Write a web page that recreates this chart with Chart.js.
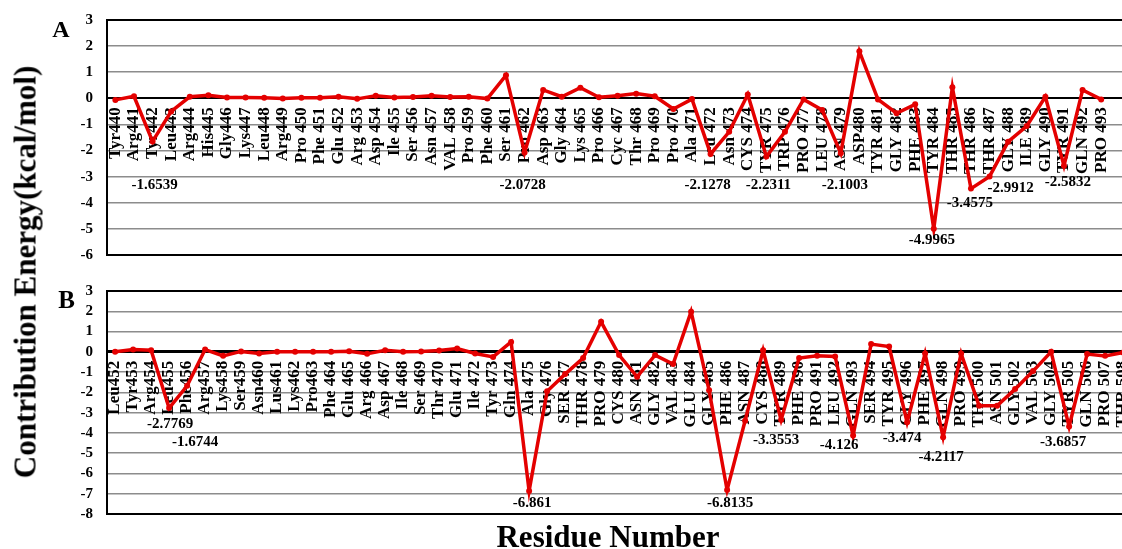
<!DOCTYPE html>
<html>
<head>
<meta charset="utf-8">
<script src="https://cdn.jsdelivr.net/npm/chart.js@4.4.1/dist/chart.umd.min.js"></script>
<style>
  html, body { margin: 0; padding: 0; background: #fff; }
  body { width: 1122px; height: 549px; overflow: hidden; position: relative;
         font-family: "Liberation Serif", "Times New Roman", serif; font-weight: bold; color: #000; }
  canvas { position: absolute; left: 0; }
  #chartA { top: 0; }
  #chartB { top: 270px; }
  .t { position: absolute; white-space: nowrap; line-height: 1; }
  #ytitle { font-size: 31px; left: 24.5px; top: 272px; transform: translate(-50%, -50%) rotate(-90deg); }
  #xtitle { font-size: 31px; left: 608px; top: 521px; transform: translateX(-50%); }
  #lblA { font-size: 24px; left: 61px; top: 17px; transform: translateX(-50%); }
  #lblB { font-size: 25px; left: 66.5px; top: 287px; transform: translateX(-50%); }
</style>
</head>
<body>
<canvas id="chartA" width="1190" height="270"></canvas>
<canvas id="chartB" width="1190" height="279"></canvas>
<div class="t" id="ytitle">Contribution Energy(kcal/mol)</div>
<div class="t" id="xtitle">Residue Number</div>
<div class="t" id="lblA">A</div>
<div class="t" id="lblB">B</div>
<script>
// Panel A residues and per-residue contribution energies (kcal/mol)
const residuesA = ['Tyr440','Arg441','Tyr442','Leu443','Arg444','His445','Gly446','Lys447','Leu448','Arg449',
  'Pro 450','Phe 451','Glu 452','Arg 453','Asp 454','Ile 455','Ser 456','Asn 457','VAL 458','Pro 459',
  'Phe 460','Ser 461','Pro 462','Asp 463','Gly 464','Lys 465','Pro 466','Cyc 467','Thr 468','Pro 469',
  'Pro 470','Ala 471','Leu 472','Asn 473','CYS 474','TYR 475','TRP 476','PRO 477','LEU 478','ASN 479',
  'ASP480','TYR 481','GLY 482','PHE 483','TYR 484','THR 485','THR 486','THR 487','GLY 488','ILE 489',
  'GLY 490','TYR 491','GLN 492','PRO 493'];
const energyA = [-0.06, 0.08, -1.6539, -0.5, 0.06, 0.12, 0.03, 0.03, 0.02, -0.01,
  0.02, 0.02, 0.06, -0.02, 0.1, 0.03, 0.05, 0.1, 0.05, 0.06,
  -0.01, 0.88, -2.0728, 0.32, 0.06, 0.41, 0.04, 0.1, 0.18, 0.08,
  -0.41, -0.03, -2.1278, -1.28, 0.15, -2.2311, -1.28, -0.04, -0.45, -2.1003,
  1.8, -0.04, -0.57, -0.23, -4.9965, 0.42, -3.4575, -2.9912, -1.66, -1.06,
  0.06, -2.5832, 0.32, -0.04];

// Panel B residues and energies
const residuesB = ['Leu452','Tyr453','Arg454','Leu455','Phe456','Arg457','Lys458','Ser459','Asn460','Lus461',
  'Lys462','Pro463','Phe 464','Glu 465','Arg 466','Asp 467','Ile 468','Ser 469','Thr 470','Glu 471',
  'Ile 472','Tyr 473','Gln 474','Ala 475','Gly 476','SER 477','THR 478','PRO 479','CYS 480','ASN 481',
  'GLY 482','VAL 483','GLU 484','GLY 485','PHE 486','ASN 487','CYS 488','TYR 489','PHE 490','PRO 491',
  'LEU 492','GLN 493','SER 494','TYR 495','GLY 496','PHE 497','GLN 498','PRO 499','THR 500','ASN 501',
  'GLY 502','VAL 503','GLY 504','TYR 505','GLN 506','PRO 507','THR 508'];
const energyB = [0, 0.11, 0.08, -2.7769, -1.6744, 0.11, -0.2, 0.02, -0.08, 0,
  0, 0, 0, 0.03, -0.1, 0.08, 0, 0.02, 0.07, 0.16,
  -0.08, -0.25, 0.49, -6.861, -1.95, -1.1, -0.31, 1.48, -0.16, -1.23,
  -0.16, -0.6, 1.98, -1.9, -6.8135, -3.4, 0.08, -3.3553, -0.31, -0.2,
  -0.23, -4.126, 0.38, 0.26, -3.474, -0.08, -4.2117, -0.08, -2.66, -2.66,
  -1.84, -0.95, 0, -3.6857, -0.11, -0.2, -0.03];

// Residues whose energy is printed
const annotatedA = [2, 22, 32, 35, 39, 44, 46, 47, 51];
const annotatedB = [3, 4, 23, 34, 37, 41, 44, 46, 53];

// Where each printed value sits: horizontal nudge (px) and row (axis units)
const spotsA = [
  { dx: 2, row: -3.32 }, { dx: -2, row: -3.32 }, { dx: -3, row: -3.32 }, { dx: 2, row: -3.32 },
  { dx: 4, row: -3.32 }, { dx: -2, row: -5.43 }, { dx: -1, row: -4.01 }, { dx: 21, row: -3.44 },
  { dx: 4, row: -3.21 }
];
const spotsB = [
  { dx: 1, row: -3.55 }, { dx: 8, row: -4.43 }, { dx: 3, row: -7.47 }, { dx: 3, row: -7.47 },
  { dx: -5, row: -4.38 }, { dx: -14, row: -4.58 }, { dx: -5, row: -4.24 }, { dx: -2, row: -5.17 },
  { dx: -6, row: -4.43 }
];

const RED = 'rgb(228,0,0)';
Chart.defaults.font.family = '"Liberation Serif", "Times New Roman", serif';

const valueLabels = {
  id: 'valueLabels',
  afterDatasetsDraw(chart, args, opts) {
    const { ctx, scales: { x, y } } = chart;
    const pts = chart.data.datasets[0].data;
    ctx.save();
    ctx.font = 'bold 15px "Liberation Serif"';
    ctx.fillStyle = '#000';
    ctx.textAlign = 'center';
    ctx.textBaseline = 'middle';
    opts.indices.forEach((idx, k) => {
      const s = opts.spots[k];
      ctx.fillText(String(pts[idx].y), x.getPixelForValue(idx) + s.dx, y.getPixelForValue(s.row));
    });
    ctx.restore();
  }
};

function makePanel(id, names, values, yMin, yMax, step, indices, spots, zeroWidth, pad) {
  const canvas = document.getElementById(id);
  const plotLeft = 107;
  const plotRight = canvas.width - pad.right;
  const xMin = -0.45;
  const xMax = xMin + (plotRight - plotLeft) / step;
  const isFrame = v => v === 0 || v === yMin || v === yMax;
  return new Chart(canvas, {
    type: 'line',
    data: {
      datasets: [{
        data: values.map((v, i) => ({ x: i, y: v })),
        borderColor: RED,
        backgroundColor: RED,
        borderWidth: 3.5,
        pointRadius: 3,
        pointBorderWidth: 0,
        pointBackgroundColor: RED,
        tension: 0
      }]
    },
    options: {
      responsive: false,
      animation: false,
      layout: { padding: pad },
      plugins: {
        legend: { display: false },
        tooltip: { enabled: false },
        valueLabels: { indices, spots }
      },
      scales: {
        x: {
          type: 'linear',
          min: xMin,
          max: xMax,
          position: { y: 0 },
          afterBuildTicks: s => { s.ticks = names.map((_, i) => ({ value: i })); },
          ticks: {
            autoSkip: false,
            minRotation: 90,
            maxRotation: 90,
            padding: 9,
            color: '#000',
            font: { size: 17, weight: 'bold' },
            callback: (v, i) => names[i]
          },
          grid: { display: false, drawTicks: false },
          border: { display: true, color: '#000', width: zeroWidth }
        },
        y: {
          min: yMin,
          max: yMax,
          afterFit: s => { s.width = plotLeft; },
          ticks: { stepSize: 1, autoSkip: false, padding: 2, color: '#000', font: { size: 15, weight: 'bold' } },
          grid: {
            drawTicks: true,
            tickLength: 12,
            tickColor: 'rgba(0,0,0,0)',
            color: c => isFrame(c.tick.value) ? '#000' : '#8c8c8c',
            lineWidth: c => c.tick.value === 0 ? zeroWidth : (isFrame(c.tick.value) ? 2 : 1.5)
          },
          border: { color: '#000', width: 2 }
        }
      }
    },
    plugins: [valueLabels]
  });
}

makePanel('chartA', residuesA, energyA, -6, 3, 18.6, annotatedA, spotsA, 2,
  { top: 20, bottom: 15, left: 0, right: 30 });
makePanel('chartB', residuesB, energyB, -8, 3, 18.0, annotatedB, spotsB, 3,
  { top: 21, bottom: 35, left: 0, right: 30 });
</script>
</body>
</html>
